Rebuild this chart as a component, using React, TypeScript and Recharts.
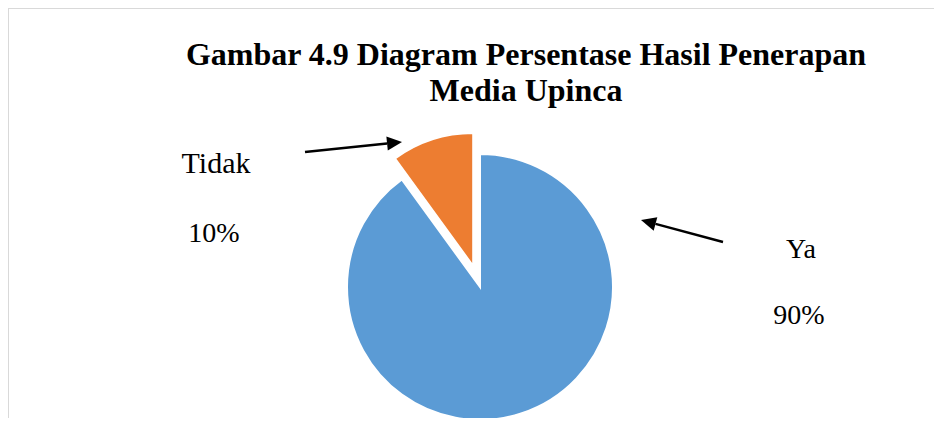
import React from "react";
import { PieChart, Pie, Cell } from "recharts";

const categories = ["Ya", "Tidak"];
const values = [90, 10];
const percentLabels = ["90%", "10%"];
const colors = ["#5B9BD5", "#ED7D31"];
const titleLines = ["Gambar 4.9 Diagram Persentase Hasil Penerapan", "Media Upinca"];

const data = categories.map((name, i) => ({ name, value: values[i] }));

const W = 942;
const H = 426;
const CX = 480;
const CY = 287;
const R = 133;
const EXPLODE = 22;
const START = 90;
const END = -270;

// mid angle of exploded slice (Tidak) derived from data
const total = values.reduce((a, b) => a + b, 0);
const before = values.slice(0, 1).reduce((a, b) => a + b, 0);
const midDeg = START + (END - START) * ((before + values[1] / 2) / total);
const midRad = (midDeg * Math.PI) / 180;
const offX = EXPLODE * Math.cos(midRad);
const offY = -EXPLODE * Math.sin(midRad);

const font = "'Liberation Serif', 'Times New Roman', serif";

function Arrow({ x1, y1, x2, y2 }: { x1: number; y1: number; x2: number; y2: number }) {
  const dx = x2 - x1;
  const dy = y2 - y1;
  const len = Math.sqrt(dx * dx + dy * dy);
  const ux = dx / len;
  const uy = dy / len;
  const hl = 15;
  const hw = 7;
  const bx = x2 - ux * hl;
  const by = y2 - uy * hl;
  const p1 = `${x2},${y2}`;
  const p2 = `${bx - uy * hw},${by + ux * hw}`;
  const p3 = `${bx + uy * hw},${by - ux * hw}`;
  return (
    <g>
      <line x1={x1} y1={y1} x2={bx} y2={by} stroke="#000" strokeWidth={2.5} />
      <polygon points={`${p1} ${p2} ${p3}`} fill="#000" />
    </g>
  );
}

export default function App() {
  return (
    <div style={{ position: "relative", width: W, height: H, margin: -8, overflow: "hidden", background: "#fff" }}>
      <div
        style={{
          position: "absolute",
          left: 7,
          top: 7,
          width: 931,
          height: 460,
          border: "2px solid #d9d9d9",
          boxSizing: "border-box",
        }}
      />
      <div style={{ position: "absolute", left: 0, top: 0 }}>
        <PieChart width={W} height={H} margin={{ top: 0, right: 0, bottom: 0, left: 0 }}>
          <Pie
            data={data}
            dataKey="value"
            nameKey="name"
            cx={CX}
            cy={CY}
            outerRadius={R}
            startAngle={START}
            endAngle={END}
            isAnimationActive={false}
            label={false}
            labelLine={false}
          >
            {data.map((d, i) => (
              <Cell
                key={d.name}
                fill={i === 0 ? colors[0] : "transparent"}
                stroke={i === 0 ? "#fff" : "none"}
                strokeWidth={2}
              />
            ))}
          </Pie>
          <Pie
            data={data}
            dataKey="value"
            nameKey="name"
            cx={CX + offX}
            cy={CY + offY}
            outerRadius={R}
            startAngle={START}
            endAngle={END}
            isAnimationActive={false}
            label={false}
            labelLine={false}
          >
            {data.map((d, i) => (
              <Cell
                key={d.name}
                fill={i === 1 ? colors[1] : "transparent"}
                stroke={i === 1 ? "#fff" : "none"}
                strokeWidth={2}
              />
            ))}
          </Pie>
        </PieChart>
      </div>
      <svg width={W} height={H} style={{ position: "absolute", left: 0, top: 0 }}>
        <text x={526} y={65} textAnchor="middle" fontFamily={font} fontWeight="bold" fontSize={32} fill="#000">
          {titleLines[0]}
        </text>
        <text x={526} y={101} textAnchor="middle" fontFamily={font} fontWeight="bold" fontSize={32} fill="#000">
          {titleLines[1]}
        </text>
        <text x={216} y={173} textAnchor="middle" fontFamily={font} fontSize={30} fill="#000">
          {categories[1]}
        </text>
        <text x={214} y={242} textAnchor="middle" fontFamily={font} fontSize={28} fill="#000">
          {percentLabels[1]}
        </text>
        <text x={801} y={258} textAnchor="middle" fontFamily={font} fontSize={28} fill="#000">
          {categories[0]}
        </text>
        <text x={799} y={324} textAnchor="middle" fontFamily={font} fontSize={28} fill="#000">
          {percentLabels[0]}
        </text>
        <Arrow x1={305} y1={152} x2={402} y2={142} />
        <Arrow x1={723} y1={242} x2={641} y2={220} />
      </svg>
    </div>
  );
}
